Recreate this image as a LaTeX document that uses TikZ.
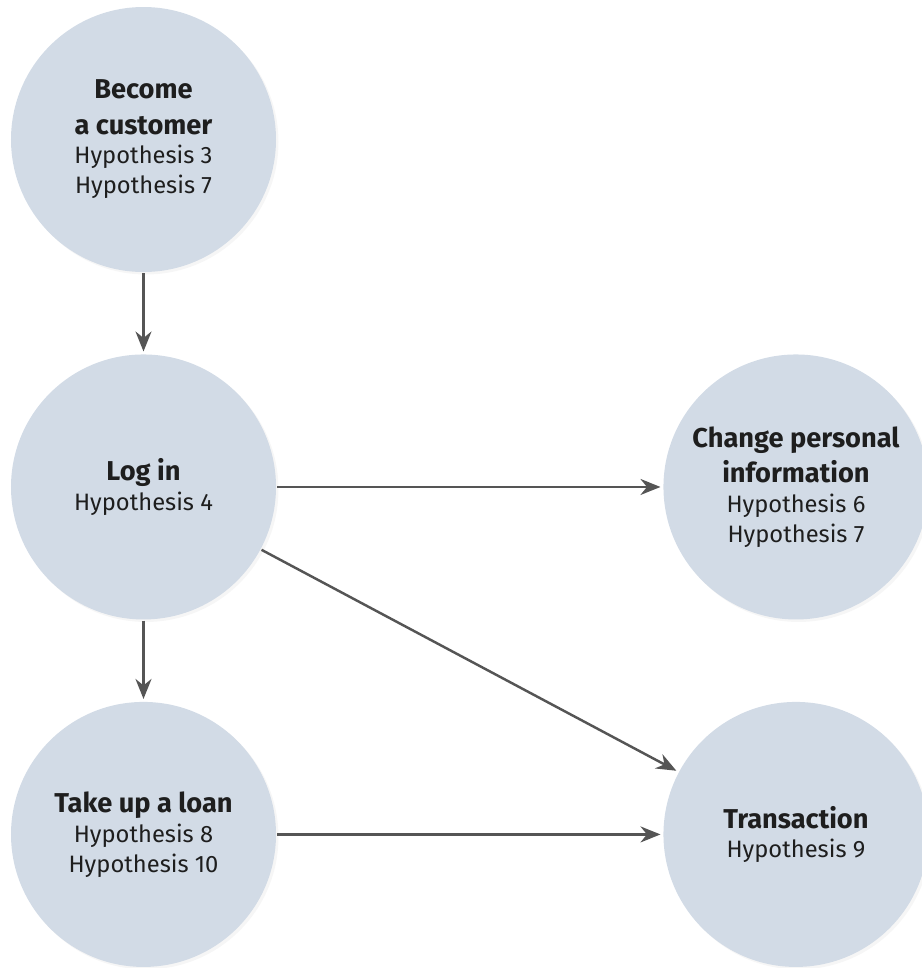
\documentclass[tikz,border=0pt]{standalone}
\usepackage{fontspec}
\setmainfont{Fira Sans}
\usepackage{tikz}
\usetikzlibrary{arrows.meta,positioning,shadows}

\definecolor{stagefill}{RGB}{210,219,230}
\definecolor{arrowgray}{RGB}{85,85,85}
\definecolor{textdark}{RGB}{30,30,30}

\newcommand{\stagename}[1]{{\fontsize{15.5}{20}\selectfont\bfseries #1}}

\begin{document}
\begin{tikzpicture}[->,>={Stealth[length=4mm,width=3.2mm]},shorten >=1pt,
  line width=1.4pt,draw=arrowgray,
  stage node/.style={circle,fill=stagefill,minimum size=5.3cm,inner sep=0pt,
    align=center,text=textdark,font=\fontsize{13.5}{17}\selectfont,
    drop shadow={opacity=0.07,shadow xshift=0.05cm,shadow yshift=-0.05cm}}]

  \useasboundingbox (0,0) rectangle (18.44,-19.36);

  \node[stage node] (customer) at (2.87,-2.79)
    {\stagename{Become}\\[3pt] \stagename{a customer}\\ Hypothesis 3\\ Hypothesis 7};
  \node[stage node] (login) [below=1.6cm of customer]
    {\stagename{Log in}\\ Hypothesis 4};
  \node[stage node] (loan) [below=1.6cm of login]
    {\stagename{Take up a loan}\\ Hypothesis 8\\ Hypothesis 10};
  \node[stage node] (personal) [right=7.7cm of login]
    {\stagename{Change personal}\\[3pt] \stagename{information}\\ Hypothesis 6\\ Hypothesis 7};
  \node[stage node] (transaction) [right=7.7cm of loan]
    {\stagename{Transaction}\\ Hypothesis 9};

  \path[draw=arrowgray,fill=arrowgray]
    (customer) edge (login)
    (login) edge (loan)
            edge (personal)
            edge (transaction)
    (loan) edge (transaction);
\end{tikzpicture}
\end{document}
